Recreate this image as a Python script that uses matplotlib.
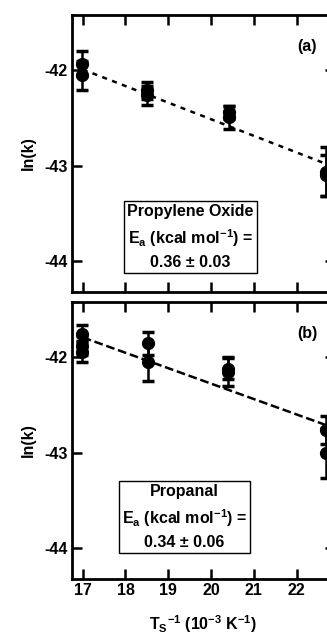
import matplotlib
matplotlib.use("Agg")
import matplotlib.pyplot as plt

plt.rcParams['font.family'] = ['Liberation Sans', 'DejaVu Sans']
plt.rcParams['font.weight'] = 'bold'
plt.rcParams['mathtext.fontset'] = 'custom'
plt.rcParams['mathtext.rm'] = 'Liberation Sans:bold'
plt.rcParams['mathtext.bf'] = 'Liberation Sans:bold'
plt.rcParams['mathtext.it'] = 'Liberation Sans:bold'
plt.rcParams['mathtext.default'] = 'bf'

# Panel (a): Propylene Oxide
a_x = [16.98, 16.98, 18.50, 18.50, 20.43, 20.43, 22.70, 22.70]
a_y = [-41.93, -42.05, -42.21, -42.26, -42.44, -42.49, -43.06, -43.10]
a_err = [0.13, 0.15, 0.09, 0.10, 0.07, 0.12, 0.26, 0.21]
a_fit_x = [17.0, 22.7]
a_fit_y = [-41.99, -42.98]

# Panel (b): Propanal
b_x = [16.98, 16.98, 16.98, 18.52, 18.52, 20.40, 20.40, 22.70, 22.70]
b_y = [-41.75, -41.88, -41.94, -41.85, -42.05, -42.12, -42.15, -42.76, -43.00]
b_err = [0.09, 0.10, 0.11, 0.12, 0.20, 0.11, 0.15, 0.15, 0.26]
b_fit_x = [17.0, 22.7]
b_fit_y = [-41.79, -42.71]

xticks = [17, 18, 19, 20, 21, 22]
yticks = [-42, -43, -44]

FS = 11.5
W, H = 327, 641
fig = plt.figure(figsize=(W / 100, H / 100), dpi=100)

def px_axes(left, right, top, bottom):
    return fig.add_axes([left / W, 1 - bottom / H, (right - left) / W, (bottom - top) / H])

ax1 = px_axes(72, 335, 15, 292)
ax2 = px_axes(72, 335, 302, 579)

def style(ax, xs, ys, errs, fx, fy, dashes, label, boxtext, box_xy, show_x):
    ax.plot(fx, fy, color='black', lw=1.8, dashes=dashes, zorder=2)
    ax.errorbar(xs, ys, yerr=errs, fmt='o', color='black', ms=8.5,
                elinewidth=1.8, capsize=4, capthick=2.5, zorder=3)
    ax.set_xlim(16.75, 22.9)
    ax.set_ylim(-44.32, -41.42)
    ax.set_xticks(xticks)
    ax.set_yticks(yticks)
    ax.set_yticklabels([str(t) for t in yticks], fontsize=FS, fontweight='bold')
    ax.tick_params(direction='in', length=7, width=1.8, top=True, right=True,
                   labelsize=FS, pad=3)
    if show_x:
        ax.set_xticklabels([str(t) for t in xticks], fontsize=FS, fontweight='bold')
    else:
        ax.set_xticklabels([])
    for s in ax.spines.values():
        s.set_linewidth(2)
    ax.set_ylabel('ln(k)', fontsize=FS, fontweight='bold', labelpad=6)
    ax.text(0.895, 0.885, label, transform=ax.transAxes, fontsize=FS,
            fontweight='bold', ha='center', va='center')
    ax.text(box_xy[0], box_xy[1], boxtext, fontsize=FS, fontweight='bold',
            ha='center', va='center', linespacing=1.5,
            bbox=dict(boxstyle='square,pad=0.2', fc='white', ec='black', lw=1))

style(ax1, a_x, a_y, a_err, a_fit_x, a_fit_y, (2, 2.2), '(a)',
      'Propylene Oxide\nE$_\\mathbf{a}$ (kcal mol$^{\\mathbf{-1}}$) =\n0.36 ± 0.03',
      (19.52, -43.745), False)
style(ax2, b_x, b_y, b_err, b_fit_x, b_fit_y, (3.5, 1.5), '(b)',
      'Propanal\nE$_\\mathbf{a}$ (kcal mol$^{\\mathbf{-1}}$) =\n0.34 ± 0.06',
      (19.38, -43.67), True)
ax2.set_xlabel('T$_\\mathbf{S}$$^{\\mathbf{-1}}$ (10$^{\\mathbf{-3}}$ K$^{\\mathbf{-1}}$)',
               fontsize=FS, fontweight='bold', labelpad=11)

fig.savefig('out.png', dpi=100)
